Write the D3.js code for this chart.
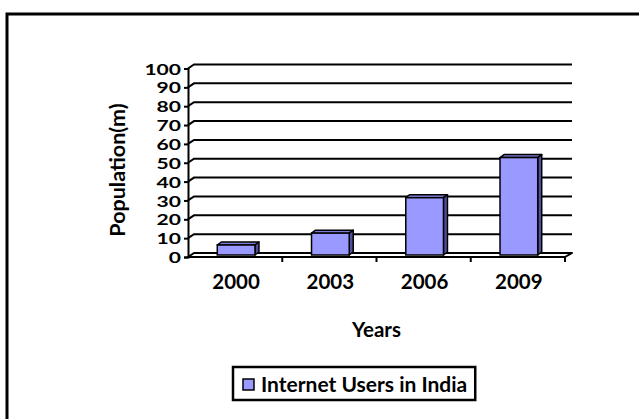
<!DOCTYPE html>
<html>
<head>
<meta charset="utf-8">
<script src="https://cdn.jsdelivr.net/npm/d3@7"></script>
<style>
  html, body { margin: 0; padding: 0; background: #fff; }
  svg { display: block; }
  text { font-family: Lato, "Open Sans", sans-serif; font-weight: 700; fill: #000; }
</style>
</head>
<body>
<svg id="chart" width="639" height="419"></svg>
<script>
// Internet users in India (millions)
const years = ["2000", "2003", "2006", "2009"];
const users = [5.3, 11.6, 30.4, 51.7];
const valueTicks = [0, 10, 20, 30, 40, 50, 60, 70, 80, 90, 100];
const seriesName = "Internet Users in India";
const xTitle = "Years";
const yTitle = "Population(m)";

const svg = d3.select("#chart");

// Frame around the chart area
svg.append("rect")
  .attr("x", 7).attr("y", 14)
  .attr("width", 700).attr("height", 500)
  .attr("fill", "none").attr("stroke", "#000").attr("stroke-width", 3);

// Front plane scales
const x = d3.scaleBand().domain(years).range([188, 565]).padding(0);
const y = d3.scaleLinear().domain([0, 100]).range([257, 68.5]);

// 3-D depth of the walls and of the columns
const wallDx = 6, wallDy = -4;
const barDx = 4, barDy = -3;
const barShiftX = 1, barShiftY = -2;

const plot = svg.append("g");

// Gridlines on side and back wall
valueTicks.forEach(t => {
  if (t === 0) return;
  plot.append("path")
    .attr("d", `M${x.range()[0]},${y(t)} L${x.range()[0] + wallDx},${y(t) + wallDy} L${x.range()[1] + wallDx + 1},${y(t) + wallDy}`)
    .attr("fill", "none").attr("stroke", "#000").attr("stroke-width", 2);
});

// Floor
const x0 = x.range()[0], x1 = x.range()[1];
plot.append("path")
  .attr("d", `M${x0},${y(0)} L${x1},${y(0)} L${x1 + wallDx + 1},${y(0) + wallDy} L${x0 + wallDx},${y(0) + wallDy} Z`)
  .attr("fill", "#fff").attr("stroke", "#000").attr("stroke-width", 2).attr("stroke-linejoin", "round");

// Columns
const barW = x.bandwidth() * 0.4;
const bars = plot.selectAll("g.bar").data(years.map((yr, i) => ({ yr, v: users[i] })))
  .enter().append("g").attr("class", "bar");

bars.each(function (d) {
  const g = d3.select(this);
  const left = x(d.yr) + (x.bandwidth() - barW) / 2 + barShiftX;
  const right = left + barW;
  const top = y(d.v) + barShiftY;
  const bottom = y(0) + barShiftY;
  // top face
  g.append("path")
    .attr("d", `M${left},${top} L${left + barDx},${top + barDy} L${right + barDx},${top + barDy} L${right},${top} Z`)
    .attr("fill", "#7c7cd6").attr("stroke", "#000").attr("stroke-width", 1.5).attr("stroke-linejoin", "round");
  // side face
  g.append("path")
    .attr("d", `M${right},${top} L${right + barDx},${top + barDy} L${right + barDx},${bottom + barDy} L${right},${bottom} Z`)
    .attr("fill", "#50509a").attr("stroke", "#000").attr("stroke-width", 1.5).attr("stroke-linejoin", "round");
  // front face
  g.append("rect")
    .attr("x", left).attr("y", top)
    .attr("width", barW).attr("height", bottom - top)
    .attr("fill", "#9999ff").attr("stroke", "#000").attr("stroke-width", 1.5);
});

// Value axis
const yAxis = plot.append("g").attr("transform", `translate(${x0},0)`)
  .call(d3.axisLeft(y).tickValues(valueTicks).tickSize(4).tickPadding(3).tickFormat(d3.format("d")));
yAxis.select(".domain").attr("stroke", "#000").attr("stroke-width", 2);
yAxis.selectAll(".tick line").attr("stroke", "#000").attr("stroke-width", 2);
yAxis.selectAll(".tick text")
  .style("font-size", "15.5px").style("font-family", "Lato, sans-serif").style("font-weight", 700)
  .attr("fill", "#000")
  .attr("dy", "0.36em")
  .attr("textLength", d => String(d).length * 12.2)
  .attr("lengthAdjust", "spacingAndGlyphs");

// Category axis: tick marks at band edges, labels at band centres
const catAxis = plot.append("g").attr("transform", `translate(0,${y(0)})`);
catAxis.append("line").attr("x1", x0).attr("x2", x1).attr("y1", 0).attr("y2", 0)
  .attr("stroke", "#000").attr("stroke-width", 2);
years.forEach(yr => {
  catAxis.append("line")
    .attr("x1", x(yr) + x.bandwidth()).attr("x2", x(yr) + x.bandwidth())
    .attr("y1", 0).attr("y2", 5).attr("stroke", "#000").attr("stroke-width", 2);
  catAxis.append("text")
    .attr("x", x(yr) + x.bandwidth() / 2 + 1).attr("y", 32)
    .attr("text-anchor", "middle").style("font-size", "20.5px").text(yr);
});

// Axis titles
svg.append("text")
  .attr("x", (x0 + x1) / 2).attr("y", 337)
  .attr("text-anchor", "middle").style("font-size", "20.5px").text(xTitle);

svg.append("text")
  .attr("transform", "translate(125,170) rotate(-90)")
  .attr("text-anchor", "middle").style("font-size", "21.5px").text(yTitle);

// Legend
const legend = svg.append("g").attr("transform", "translate(233,367)");
const legendText = legend.append("text")
  .attr("x", 28).attr("y", 25).style("font-size", "21px").text(seriesName);
const tw = legendText.node().getComputedTextLength();
legend.insert("rect", "text")
  .attr("x", 0).attr("y", 0).attr("width", tw + 36).attr("height", 33)
  .attr("fill", "#fff").attr("stroke", "#000").attr("stroke-width", 2.5);
legend.append("rect")
  .attr("x", 10).attr("y", 12).attr("width", 11).attr("height", 11)
  .attr("fill", "#9999ff").attr("stroke", "#000").attr("stroke-width", 1.5);
</script>
</body>
</html>
